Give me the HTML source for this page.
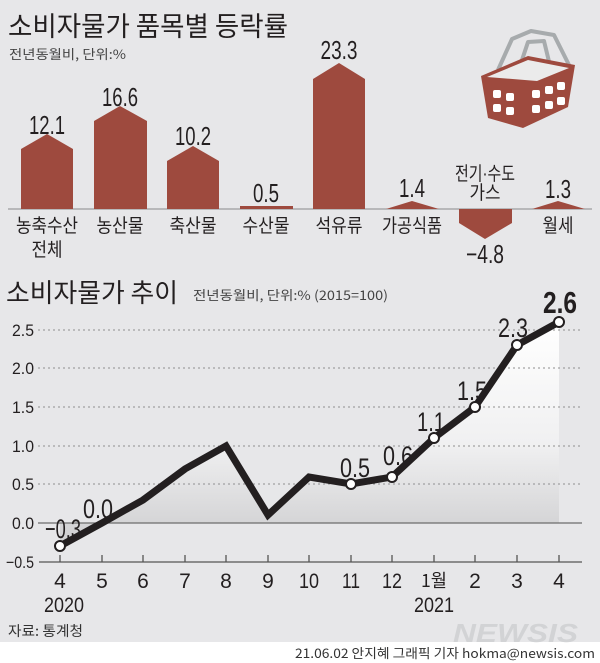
<!DOCTYPE html>
<html><head><meta charset="utf-8">
<style>
html,body{margin:0;padding:0;background:#e7e7e9;}
svg{display:block;}
text{font-family:"Liberation Sans","Noto Sans CJK KR",sans-serif;fill:#231f20;}
.k{font-family:"Noto Sans CJK KR","Liberation Sans",sans-serif;}
</style></head>
<body>
<svg width="600" height="663" viewBox="0 0 600 663" xmlns="http://www.w3.org/2000/svg">
<defs>
<linearGradient id="g" x1="0" y1="0" x2="0" y2="1">
<stop offset="0" stop-color="#ffffff"/>
<stop offset="0.55" stop-color="#f0f0f1"/>
<stop offset="1" stop-color="#cdcdcf"/>
</linearGradient>
</defs>
<rect width="600" height="663" fill="#e7e7e9"/>
<rect y="642" width="600" height="21" fill="#fff"/>

<text class="k" x="8" y="36" font-size="27" textLength="280" lengthAdjust="spacingAndGlyphs">소비자물가 품목별 등락률</text>
<text class="k" x="9" y="59" font-size="13" style="fill:#444" textLength="117" lengthAdjust="spacingAndGlyphs">전년동월비, 단위:%</text>

<g stroke="#a7abad" stroke-width="4" fill="none" stroke-linejoin="round">
<path d="M498 70 L512 39 L531 31 L554 35 L571 69"/>
<path d="M519 69 L528 42 L544 41 L553 78"/>
</g>
<polygon points="481,76 528,56 575,65 568,107 523,128 488,118" fill="#9e4a3e"/>
<polygon points="487,77 528,60 569,68 537,81" fill="#ebebeb"/>
<g fill="#fff">
<rect x="493" y="90" width="8" height="8" rx="2"/><rect x="506" y="93" width="8" height="8" rx="2"/>
<rect x="493" y="104" width="8" height="8" rx="2"/><rect x="506" y="107" width="8" height="8" rx="2"/>
<rect x="532" y="90" width="8" height="8" rx="2"/><rect x="545" y="86" width="8" height="8" rx="2"/><rect x="557" y="82" width="8" height="8" rx="2"/>
<rect x="532" y="105" width="8" height="8" rx="2"/><rect x="545" y="101" width="8" height="8" rx="2"/><rect x="557" y="97" width="8" height="8" rx="2"/>
</g>

<line x1="8" y1="209" x2="592" y2="209" stroke="#8a8a8a" stroke-width="1"/>
<g fill="#9e4a3e">
<polygon points="21,209 21,149 47,134 73,149 73,209"/>
<polygon points="94,209 94,121 120,106 147,121 147,209"/>
<polygon points="167,209 167,161 193,146 219,161 219,209"/>
<rect x="240" y="206" width="53" height="3"/>
<polygon points="313,209 313,79 339,63 365,79 365,209"/>
<polygon points="386,209 412,201 439,209"/>
<polygon points="459,209 512,209 512,223 485,239 459,223"/>
<polygon points="532,209 558,201 585,209"/>
</g>
<g font-size="26" text-anchor="middle">
<text x="47" y="134" textLength="36" lengthAdjust="spacingAndGlyphs">12.1</text>
<text x="120" y="106" textLength="36" lengthAdjust="spacingAndGlyphs">16.6</text>
<text x="193" y="145" textLength="36" lengthAdjust="spacingAndGlyphs">10.2</text>
<text x="266" y="202" textLength="26" lengthAdjust="spacingAndGlyphs">0.5</text>
<text x="339" y="59" textLength="37" lengthAdjust="spacingAndGlyphs">23.3</text>
<text x="412" y="197" textLength="26" lengthAdjust="spacingAndGlyphs">1.4</text>
<text x="485" y="263" textLength="38" lengthAdjust="spacingAndGlyphs">−4.8</text>
<text x="558" y="198" textLength="26" lengthAdjust="spacingAndGlyphs">1.3</text>
</g>
<g class="k" font-size="19" text-anchor="middle">
<text x="47" y="232" textLength="62" lengthAdjust="spacingAndGlyphs">농축수산</text>
<text x="47" y="256" textLength="31" lengthAdjust="spacingAndGlyphs">전체</text>
<text x="120" y="232" textLength="47" lengthAdjust="spacingAndGlyphs">농산물</text>
<text x="193" y="232" textLength="47" lengthAdjust="spacingAndGlyphs">축산물</text>
<text x="266" y="232" textLength="47" lengthAdjust="spacingAndGlyphs">수산물</text>
<text x="339" y="232" textLength="47" lengthAdjust="spacingAndGlyphs">석유류</text>
<text x="412" y="232" textLength="60" lengthAdjust="spacingAndGlyphs">가공식품</text>
<text x="485" y="180" textLength="60" lengthAdjust="spacingAndGlyphs">전기·수도</text>
<text x="485" y="199" textLength="31" lengthAdjust="spacingAndGlyphs">가스</text>
<text x="558" y="232" textLength="31" lengthAdjust="spacingAndGlyphs">월세</text>
</g>

<text class="k" x="6" y="302" font-size="26" textLength="172" lengthAdjust="spacingAndGlyphs">소비자물가 추이</text>
<text class="k" x="193" y="300" font-size="13" style="fill:#444" textLength="195" lengthAdjust="spacingAndGlyphs">전년동월비, 단위:%  (2015=100)</text>

<polygon points="60,546 102,523 143,500 185,469 226,446 268,515 309,477 351,484 392,477 434,438 475,407 517,345 559,322 559,523 60,523" fill="url(#g)"/>

<g stroke="#8f8f8f" stroke-width="1" stroke-dasharray="2,3">
<line x1="38" y1="330" x2="582" y2="330"/>
<line x1="38" y1="368" x2="582" y2="368"/>
<line x1="38" y1="407" x2="582" y2="407"/>
<line x1="38" y1="446" x2="582" y2="446"/>
<line x1="38" y1="484" x2="582" y2="484"/>
</g>
<line x1="38" y1="523" x2="582" y2="523" stroke="#6d6d6d" stroke-width="1.3"/>
<line x1="39" y1="562" x2="582" y2="562" stroke="#555" stroke-width="1.3"/>
<g stroke="#555" stroke-width="1.3">
<line x1="60" y1="555" x2="60" y2="562"/><line x1="102" y1="555" x2="102" y2="562"/><line x1="143" y1="555" x2="143" y2="562"/><line x1="185" y1="555" x2="185" y2="562"/><line x1="226" y1="555" x2="226" y2="562"/><line x1="268" y1="555" x2="268" y2="562"/><line x1="309" y1="555" x2="309" y2="562"/><line x1="351" y1="555" x2="351" y2="562"/><line x1="392" y1="555" x2="392" y2="562"/><line x1="434" y1="555" x2="434" y2="562"/><line x1="475" y1="555" x2="475" y2="562"/><line x1="517" y1="555" x2="517" y2="562"/><line x1="559" y1="555" x2="559" y2="562"/>
</g>
<g font-size="17" text-anchor="end" style="fill:#333">
<text x="34" y="336" textLength="22" lengthAdjust="spacingAndGlyphs">2.5</text>
<text x="34" y="374" textLength="22" lengthAdjust="spacingAndGlyphs">2.0</text>
<text x="34" y="413" textLength="22" lengthAdjust="spacingAndGlyphs">1.5</text>
<text x="34" y="452" textLength="22" lengthAdjust="spacingAndGlyphs">1.0</text>
<text x="34" y="490" textLength="22" lengthAdjust="spacingAndGlyphs">0.5</text>
<text x="34" y="529" textLength="22" lengthAdjust="spacingAndGlyphs">0.0</text>
<text x="34" y="568" textLength="28" lengthAdjust="spacingAndGlyphs">−0.5</text>
</g>
<g font-size="21" text-anchor="middle">
<text x="60" y="588">4</text><text x="102" y="588">5</text><text x="143" y="588">6</text><text x="185" y="588">7</text><text x="226" y="588">8</text><text x="268" y="588">9</text>
<text x="309" y="588" textLength="20" lengthAdjust="spacingAndGlyphs">10</text>
<text x="351" y="588" textLength="18" lengthAdjust="spacingAndGlyphs">11</text>
<text x="392" y="588" textLength="20" lengthAdjust="spacingAndGlyphs">12</text>
<text class="k" x="434" y="587" font-size="18" textLength="26" lengthAdjust="spacingAndGlyphs">1월</text>
<text x="475" y="588">2</text><text x="517" y="588">3</text><text x="559" y="588">4</text>
<text x="64" y="612" textLength="40" lengthAdjust="spacingAndGlyphs">2020</text>
<text x="434" y="612" textLength="40" lengthAdjust="spacingAndGlyphs">2021</text>
</g>

<polyline points="60,546 102,523 143,500 185,469 226,446 268,515 309,477 351,484 392,477 434,438 475,407 517,345 559,322" fill="none" stroke="#231f20" stroke-width="7" stroke-linejoin="miter"/>
<g fill="#fff" stroke="#231f20" stroke-width="2">
<circle cx="60" cy="546" r="5"/><circle cx="351" cy="484" r="5"/><circle cx="392" cy="477" r="5"/><circle cx="434" cy="438" r="5"/><circle cx="475" cy="407" r="5"/><circle cx="517" cy="345" r="5"/><circle cx="559" cy="322" r="5"/>
</g>
<g font-size="27" text-anchor="middle">
<text x="63" y="538" textLength="36" lengthAdjust="spacingAndGlyphs">−0.3</text>
<text x="98" y="518" textLength="30" lengthAdjust="spacingAndGlyphs">0.0</text>
<text x="355" y="477" textLength="30" lengthAdjust="spacingAndGlyphs">0.5</text>
<text x="398" y="465" textLength="30" lengthAdjust="spacingAndGlyphs">0.6</text>
<text x="431" y="431" textLength="28" lengthAdjust="spacingAndGlyphs">1.1</text>
<text x="472" y="400" textLength="30" lengthAdjust="spacingAndGlyphs">1.5</text>
<text x="513" y="337" textLength="30" lengthAdjust="spacingAndGlyphs">2.3</text>
<text x="560" y="313" font-size="31" font-weight="bold" textLength="34" lengthAdjust="spacingAndGlyphs">2.6</text>
</g>

<text class="k" x="8" y="636" font-size="14" style="fill:#333" textLength="75" lengthAdjust="spacingAndGlyphs">자료: 통계청</text>
<text x="578" y="642" font-size="26" font-weight="bold" font-style="italic" text-anchor="end" style="fill:#d2d3d5" textLength="125" lengthAdjust="spacingAndGlyphs">NEWSIS</text>
<text class="k" x="595" y="658" font-size="13" style="fill:#333" text-anchor="end" textLength="300" lengthAdjust="spacingAndGlyphs">21.06.02 안지혜 그래픽 기자 hokma@newsis.com</text>
</svg>
</body></html>
